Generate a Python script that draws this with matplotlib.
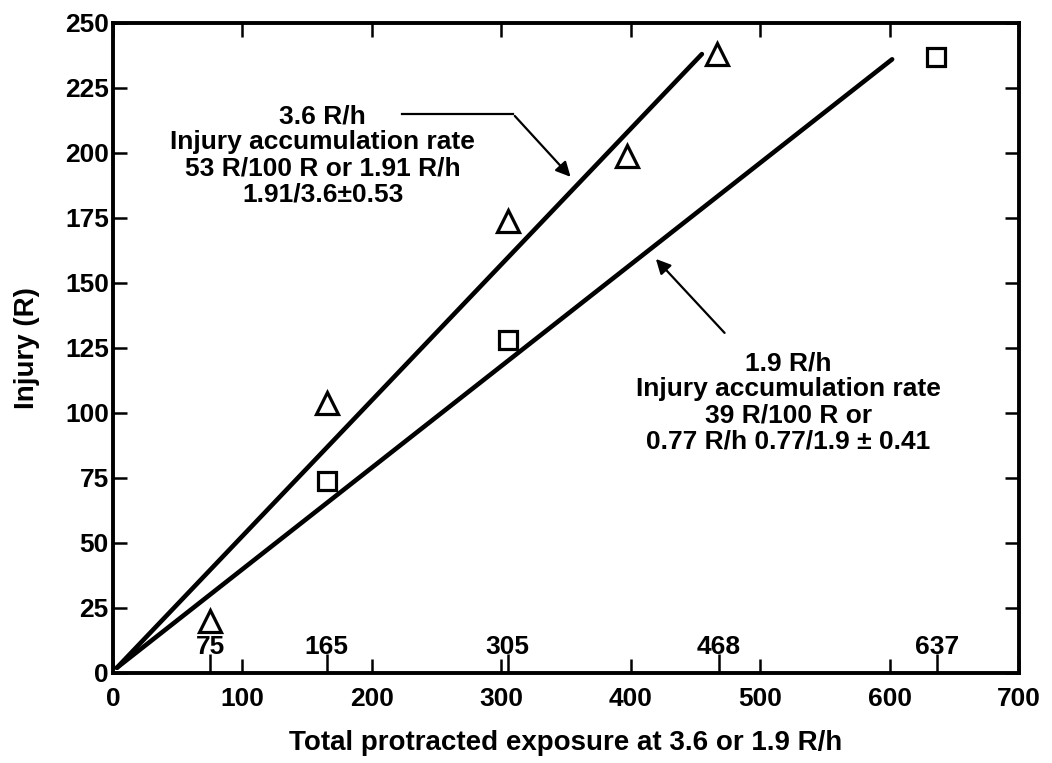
import numpy as np
import matplotlib
matplotlib.use('Agg')
import matplotlib.pyplot as plt

plt.rcParams['font.family'] = ['Liberation Sans', 'DejaVu Sans']
plt.rcParams['font.weight'] = 'bold'

# data
tri_x = [75, 165, 305, 397, 467]        # 3.6 R/h points
tri_y = [20, 104, 174, 199, 238]
sq_x = [165, 305, 636]                  # 1.9 R/h points
sq_y = [74, 128, 237]
fit36_x = [3, 455]
fit36_y = [2, 238]
fit19_x = [3, 602]
fit19_y = [2, 236]
exposures = [75, 165, 305, 468, 637]    # labelled exposure marks

fig = plt.figure(figsize=(10.52, 7.63), dpi=100)
ax = fig.add_axes([0.1074, 0.118, 0.8612, 0.852])

ax.plot(fit36_x, fit36_y, color='k', linewidth=3.3, solid_capstyle='round')
ax.plot(fit19_x, fit19_y, color='k', linewidth=3.3, solid_capstyle='round')
ax.plot(tri_x, tri_y, linestyle='', marker='^', markersize=16,
        markerfacecolor='white', markeredgecolor='k', markeredgewidth=2.3)
ax.plot(sq_x, sq_y, linestyle='', marker='s', markersize=13,
        markerfacecolor='white', markeredgecolor='k', markeredgewidth=2.3)

# annotations
ax.text(162, 199, '3.6 R/h\nInjury accumulation rate\n53 R/100 R or 1.91 R/h\n1.91/3.6\u00b10.53',
        ha='center', va='center', fontsize=19, fontweight='bold', linespacing=1.12)
ax.plot([223, 309], [215, 215], color='k', linewidth=1.6)
ax.annotate('', xy=(355, 190), xytext=(309, 215),
            arrowprops=dict(arrowstyle='-|>', color='k', lw=1.6, mutation_scale=22))

ax.text(522, 104, '1.9 R/h\nInjury accumulation rate\n39 R/100 R or\n0.77 R/h 0.77/1.9 \u00b1 0.41',
        ha='center', va='center', fontsize=19, fontweight='bold', linespacing=1.12)
ax.annotate('', xy=(418, 160), xytext=(474, 130),
            arrowprops=dict(arrowstyle='-|>', color='k', lw=1.6, mutation_scale=22))

# axes styling
ax.set_xlim(0, 700)
ax.set_ylim(0, 250)
ax.set_xticks(np.arange(0, 701, 100))
ax.set_yticks(np.arange(0, 251, 25))
ax.set_xticks(exposures, minor=True)
ax.set_xticklabels([str(v) for v in exposures], minor=True)
ax.tick_params(which='major', direction='in', length=10, width=1.8,
               top=True, right=True, labelsize=19)
ax.tick_params(axis='x', which='major', pad=10)
ax.tick_params(axis='y', which='major', pad=3)
ax.tick_params(axis='x', which='minor', direction='in', length=14, width=1.8,
               top=False, labelsize=19, pad=-27)
for lab in ax.get_xticklabels() + ax.get_yticklabels() + ax.get_xticklabels(minor=True):
    lab.set_fontweight('bold')
for s in ax.spines.values():
    s.set_linewidth(2.8)

ax.set_xlabel('Total protracted exposure at 3.6 or 1.9 R/h', fontsize=20,
              fontweight='bold', labelpad=14)
ax.set_ylabel('Injury (R)', fontsize=20, fontweight='bold', labelpad=18)

fig.savefig('out.png', dpi=100)
